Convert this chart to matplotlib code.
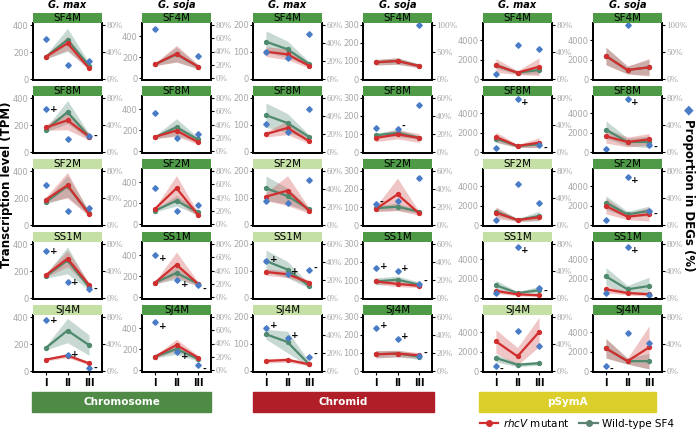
import numpy as np
import matplotlib
matplotlib.use("Agg")
import matplotlib.pyplot as plt
from matplotlib.patches import Rectangle
from matplotlib.lines import Line2D

nan = np.nan

# panels: 6 columns (replicon x host), 5 rows (strains)
strains = ["SF4M", "SF8M", "SF2M", "SS1M", "SJ4M"]
hosts = ["G. max", "G. soja", "G. max", "G. soja", "G. max", "G. soja"]
replicons = ["Chromosome", "Chromid", "pSymA"]
stages = ["I", "II", "III"]

# rhcV mutant, mean TPM per stage
red_tpm = [
    [[165, 265, 80], [182, 235, 114], [188, 295, 80], [170, 292, 98], [85, 115, 57]],
    [[130, 231, 108], [135, 195, 84], [143, 341, 86], [136, 308, 125], [127, 238, 118]],
    [[101, 91, 49], [66, 89, 40], [105, 127, 53], [96, 88, 57], [37, 41, 25]],
    [[93, 100, 72], [78, 98, 78], [89, 170, 65], [92, 78, 68], [93, 97, 87]],
    [[1400, 650, 1260], [1540, 615, 960], [1260, 510, 790], [720, 380, 280], [3040, 1500, 4000]],
    [[2360, 920, 1200], [1610, 1030, 1300], [1950, 850, 1100], [890, 510, 380], [2330, 1010, 2420]],
]
red_sd = [
    [[15, 50, 15], [20, 70, 25], [20, 95, 15], [15, 60, 15], [10, 15, 12]],
    [[12, 80, 20], [15, 55, 20], [15, 120, 20], [12, 120, 20], [12, 55, 20]],
    [[18, 20, 8], [10, 25, 8], [15, 55, 10], [12, 12, 8], [8, 8, 6]],
    [[15, 18, 10], [20, 25, 25], [15, 90, 10], [15, 15, 10], [20, 18, 15]],
    [[700, 200, 900], [500, 150, 500], [600, 150, 300], [250, 150, 150], [1200, 900, 1500]],
    [[900, 400, 900], [700, 500, 600], [800, 300, 700], [350, 200, 200], [1000, 300, 2200]],
]
# wild-type SF4, mean TPM per stage
green_tpm = [
    [[165, 290, 100], [165, 296, 114], [170, 288, 88], [163, 279, 80], [172, 300, 192]],
    [[130, 225, 108], [130, 227, 110], [127, 222, 111], [136, 229, 127], [127, 200, 105]],
    [[138, 110, 56], [136, 107, 56], [136, 107, 58], [137, 105, 44], [136, 107, 25]],
    [[93, 100, 74], [93, 106, 80], [93, 102, 74], [92, 102, 74], [93, 97, 80]],
    [[1400, 650, 920], [1370, 615, 790], [1360, 510, 920], [1300, 510, 790], [1330, 640, 800]],
    [[2360, 920, 1200], [2300, 1030, 1030], [2290, 1100, 1440], [2220, 890, 1230], [2330, 1010, 1010]],
]
green_sd = [
    [[15, 85, 20], [15, 85, 20], [15, 80, 15], [15, 100, 20], [15, 90, 75]],
    [[12, 70, 20], [15, 80, 20], [12, 50, 25], [12, 60, 20], [12, 50, 20]],
    [[40, 30, 8], [45, 35, 8], [45, 30, 8], [40, 30, 8], [18, 40, 10]],
    [[15, 18, 10], [12, 20, 10], [15, 20, 10], [20, 20, 15], [20, 18, 15]],
    [[300, 150, 400], [400, 150, 300], [400, 150, 500], [500, 150, 400], [400, 200, 200]],
    [[900, 400, 800], [900, 400, 600], [700, 300, 500], [900, 400, 900], [1000, 300, 800]],
]
# proportion in DEGs (%), right axis
deg_pct = [
    [[59, 20, 26], [63, 19, 23], [59, 20, 25], [69, 23, 13], [75, 24, 4]],
    [[74, nan, 33], [58, 20, 26], [54, 20, 29], [64, 25, 18], [72, 27, 7]],
    [[30, 23, 50], [31, 22, 48], [27, 24, 50], [41, 27, 31], [48, 37, 16]],
    [[nan, nan, 100], [27, 26, 52], [23, 27, 52], [33, 30, 16], [48, 36, 17]],
    [[7, 51, 45], [6, 78, 10], [8, 61, 33], [8, 75, 15], [7, 60, 37]],
    [[nan, 100, nan], [5, 78, 11], [7, 71, 20], [8, 75, 4], [7, 56, 42]],
]
deg_sign = [
    [["", "", ""], ["+", "", "-"], ["", "", ""], ["+", "+", "-"], ["+", "+", "-"]],
    [["", "", ""], ["", "", ""], ["", "", ""], ["+", "+", "-"], ["+", "+", "-"]],
    [["", "", ""], ["", "", ""], ["", "", ""], ["+", "+", "-"], ["+", "+", "-"]],
    [["", "", ""], ["", "-", ""], ["-", "", ""], ["+", "+", "-"], ["+", "+", "-"]],
    [["", "", ""], ["", "+", "-"], ["", "", ""], ["", "+", "-"], ["-", "", ""]],
    [["", "", ""], ["", "+", "-"], ["", "+", "-"], ["", "+", "-"], ["-", "", ""]],
]

# axis settings per column
left_ticks = [[0, 200, 400], [0, 200, 400], [0, 100, 200], [0, 100, 200, 300],
              [0, 2000, 4000], [0, 2000, 4000]]
left_lim = [(-7, 415), (-19, 524), (-3.7, 207), (-5.5, 311), (-102, 5744), (-102, 5744)]
right_ticks = [[0, 40, 80], [0, 20, 40, 60, 80], [0, 20, 40, 60], [0, 20, 40, 60],
               [0, 40, 80], [0, 40, 80]]
right_lim = [(-1.5, 83), (-3, 83), (-1.1, 62.2), (-1.1, 62.2), (-1.5, 83), (-1.5, 83)]
light_strip = [[False, False, True, True, True], [False] * 5,
               [False, False, True, True, True], [False] * 5,
               [False, False, True, True, True], [False] * 5]

W, H = 696, 429
RED = "#d12f2f"
GREEN = "#4f8a6f"
BLUE = "#4a7cc6"
DARK_STRIP = "#4e9a47"
LIGHT_STRIP = "#c5e0a5"
GRAY = "#a6a6a6"

col_left = [33, 142, 253, 363, 483, 593]
row_top = [23, 96, 169, 242, 315]
box_w, box_h, strip_h = 69, 57, 10.5
sign_dy = [0, -4, 2, 2, -3, -3]


def fx(x):
    return x / W


def fy(y):
    return 1 - y / H


fig = plt.figure(figsize=(W / 100, H / 100), dpi=100)
x = np.array([1, 2, 3])

for c in range(6):
    fig.text(fx(col_left[c] + box_w / 2), fy(5.5), hosts[c], ha="center", va="center",
             fontsize=7, fontweight="bold", fontstyle="italic")
    for r in range(5):
        left, top = col_left[c], row_top[r]
        ax = fig.add_axes([fx(left), fy(top + box_h), box_w / W, box_h / H])
        rm, rs = np.array(red_tpm[c][r]), np.array(red_sd[c][r])
        gm, gs = np.array(green_tpm[c][r]), np.array(green_sd[c][r])
        ax.fill_between(x, gm - gs, gm + gs, color="#5f9480", alpha=0.35, lw=0)
        ax.fill_between(x, rm - rs, rm + rs, color="#d55a5a", alpha=0.35, lw=0)
        ax.plot(x, gm, color=GREEN, lw=1.6, marker="o", ms=2.8)
        ax.plot(x, rm, color=RED, lw=1.6, marker="o", ms=2.8)
        ax.set_xlim(0.4, 3.6)
        ax.set_ylim(*left_lim[c])
        ax.set_yticks(left_ticks[c])
        ax.tick_params(axis="y", length=2, color="black", labelcolor=GRAY,
                       labelsize=6, pad=1)
        ax.set_xticks(x)
        if r == 4:
            ax.set_xticklabels(stages, fontsize=7, fontweight="bold")
            ax.tick_params(axis="x", length=2, pad=2)
        else:
            ax.set_xticklabels([])
            ax.tick_params(axis="x", length=0)
        for s in ["left", "bottom", "right"]:
            ax.spines[s].set_linewidth(1.4)
        ax.spines["top"].set_visible(False)

        ax2 = ax.twinx()
        p = np.array(deg_pct[c][r], dtype=float)
        ax2.plot(x, p, linestyle="none", marker="D", ms=2.8, color=BLUE)
        for i in range(3):
            if deg_sign[c][r][i]:
                ax2.annotate(deg_sign[c][r][i], (x[i], p[i]), xytext=(4, sign_dy[c]),
                             textcoords="offset pixels", fontsize=6.5, fontweight="bold",
                             ha="left", va="center")
        if c in (3, 5) and r == 0:
            ax2.set_ylim(-1.9, 103.7)
            ax2.set_yticks([0, 50, 100])
        else:
            ax2.set_ylim(*right_lim[c])
            ax2.set_yticks(right_ticks[c])
        ax2.set_yticklabels([f"{t}%" for t in ax2.get_yticks()], family="Liberation Serif")
        ax2.tick_params(axis="y", length=2, color="black", labelcolor=GRAY,
                        labelsize=6.5, pad=1)
        for s in ["left", "bottom", "right"]:
            ax2.spines[s].set_linewidth(1.4)
        ax2.spines["top"].set_visible(False)

        sax = fig.add_axes([fx(left), fy(top), box_w / W, strip_h / H])
        sax.set_facecolor(LIGHT_STRIP if light_strip[c][r] else DARK_STRIP)
        sax.set_xticks([])
        sax.set_yticks([])
        for s in sax.spines.values():
            s.set_visible(False)
        sax.text(0.5, 0.45, strains[r], transform=sax.transAxes, ha="center",
                 va="center", fontsize=7.5)

# replicon bars
bar_x = [(32, 211), (253, 434), (479, 656)]
bar_col = ["#4f8a46", "#b01f27", "#dccf2b"]
for (x0, x1), name, colr in zip(bar_x, replicons, bar_col):
    fig.patches.append(Rectangle((fx(x0), fy(412)), (x1 - x0) / W, 20 / H,
                                 transform=fig.transFigure, color=colr))
    fig.text(fx((x0 + x1) / 2), fy(402), name, ha="center", va="center",
             color="white", fontsize=7.5, fontweight="bold")

fig.text(fx(7), fy(185), "Transcription level (TPM)", rotation=90, ha="center",
         va="center", fontsize=8.5, fontweight="bold")
fig.text(fx(689), fy(110), "\u25c6", color=BLUE, ha="center", va="center", fontsize=9)
fig.text(fx(689), fy(195), "Proportion in DEGs (%)", rotation=-90, ha="center",
         va="center", fontsize=8.5, fontweight="bold")

handles = [Line2D([], [], color=RED, lw=1.6, marker="o", ms=4),
           Line2D([], [], color="#5c8272", lw=1.6, marker="o", ms=4)]
fig.legend(handles, [r"$\it{rhcV}$ mutant", "Wild-type SF4"], loc="center",
           bbox_to_anchor=(fx(577), fy(423)), ncol=2, frameon=False, fontsize=7.5,
           handlelength=1.8, columnspacing=1.0, handletextpad=0.4)

fig.savefig("out.png", dpi=100)
